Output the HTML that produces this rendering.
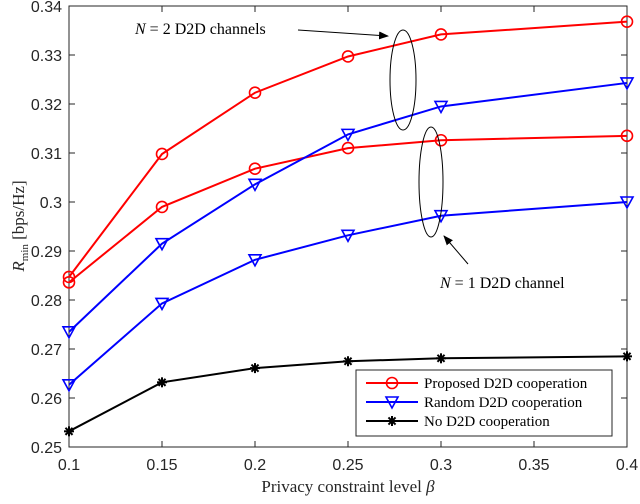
<!DOCTYPE html>
<html><head><meta charset="utf-8"><style>
body{margin:0;background:#fff}
svg text{font-family:"Liberation Serif",serif}
.tk{font-family:"Liberation Sans",sans-serif;font-size:16px;fill:#262626}
</style></head><body>
<svg id="c" width="640" height="499" xmlns="http://www.w3.org/2000/svg">
<defs><marker id="ah" markerWidth="10" markerHeight="8" refX="9" refY="4" orient="auto"><path d="M0,0 L10,4 L0,8 Z" fill="#000"/></marker></defs>
<rect x="69" y="6" width="558" height="441" fill="#fff" stroke="#262626" stroke-width="1"/>
<g id="ticks"></g>
<g id="series"></g>
<ellipse cx="403" cy="80" rx="13" ry="50" fill="none" stroke="#000"/>
<ellipse cx="431" cy="182" rx="12" ry="55" fill="none" stroke="#000"/>
<text x="135" y="34" font-size="16"><tspan font-style="italic">N</tspan> = 2 D2D channels</text>
<line x1="298" y1="30" x2="388" y2="36" stroke="#000" marker-end="url(#ah)"/>
<text x="440" y="288" font-size="16"><tspan font-style="italic">N</tspan> = 1 D2D channel</text>
<line x1="468" y1="264" x2="444" y2="236" stroke="#000" marker-end="url(#ah)"/>
<text x="348" y="492" font-size="17" text-anchor="middle" fill="#262626">Privacy constraint level <tspan font-style="italic">β</tspan></text>
<text transform="translate(24,226) rotate(-90)" font-size="17" text-anchor="middle" fill="#262626"><tspan font-style="italic">R</tspan><tspan font-size="11" dy="4">min</tspan><tspan dy="-4"> [bps/Hz]</tspan></text>
<g>
<rect x="356" y="370" width="256" height="66" fill="#fff" stroke="#262626"/>
<g id="leg"></g>
</g>
</svg>
<script>
const xVals=[0.1,0.15,0.2,0.25,0.3,0.4];
const propN2=[0.2847,0.3098,0.3223,0.3297,0.3342,0.3368];
const propN1=[0.2836,0.2990,0.3068,0.3110,0.3126,0.3135];
const randN2=[0.2735,0.2915,0.3036,0.3138,0.3195,0.3243];
const randN1=[0.2627,0.2793,0.2882,0.2932,0.2972,0.3000];
const noCoop=[0.2532,0.2632,0.2661,0.2675,0.2681,0.2685];
const xTicks=[0.1,0.15,0.2,0.25,0.3,0.35,0.4];
const yTicks=[0.25,0.26,0.27,0.28,0.29,0.3,0.31,0.32,0.33,0.34];
const legendLabels=["Proposed D2D cooperation","Random D2D cooperation","No D2D cooperation"];
const NS="http://www.w3.org/2000/svg";
const X=v=>69+(v-0.1)/0.3*558, Y=v=>447-(v-0.25)/0.09*441;
function mk(t,a,p){const e=document.createElementNS(NS,t);for(const k in a)e.setAttribute(k,a[k]);p.appendChild(e);return e;}
const tg=document.getElementById('ticks');
xTicks.forEach(t=>{const x=X(t);
mk('line',{x1:x,y1:447,x2:x,y2:441,stroke:'#262626'},tg);mk('line',{x1:x,y1:6,x2:x,y2:12,stroke:'#262626'},tg);
const e=mk('text',{x:x,y:470,'text-anchor':'middle',class:'tk'},tg);e.textContent=String(t);

});
yTicks.forEach(t=>{const y=Y(t);
mk('line',{x1:69,y1:y,x2:75,y2:y,stroke:'#262626'},tg);mk('line',{x1:627,y1:y,x2:621,y2:y,stroke:'#262626'},tg);
const e=mk('text',{x:62,y:y+6,'text-anchor':'end',class:'tk'},tg);e.textContent=String(t);

});
function marker(type,x,y,col,p){
if(type==='o')mk('circle',{cx:x,cy:y,r:5.5,fill:'none',stroke:col,'stroke-width':1.6},p);
else if(type==='v')mk('path',{d:`M${x-6},${y-5} L${x+6},${y-5} L${x},${y+6} Z`,fill:'none',stroke:col,'stroke-width':1.6},p);
else{for(const a of [0,45,90,135]){const r=a*Math.PI/180;mk('line',{x1:x-5*Math.cos(r),y1:y-5*Math.sin(r),x2:x+5*Math.cos(r),y2:y+5*Math.sin(r),stroke:col,'stroke-width':2},p);}}}
const sg=document.getElementById('series');
[[propN2,'#ff0000','o','proposed-n2'],[propN1,'#ff0000','o','proposed-n1'],[randN2,'#0000ff','v','random-n2'],[randN1,'#0000ff','v','random-n1'],[noCoop,'#000','*','no-cooperation']].forEach(([d,c,m,n])=>{
const g=mk('g',{},sg);


mk('polyline',{points:d.map((v,i)=>X(xVals[i])+','+Y(v)).join(' '),fill:'none',stroke:c,'stroke-width':2},g);
d.forEach((v,i)=>marker(m,X(xVals[i]),Y(v),c,g));});
const lg=document.getElementById('leg');
[['#ff0000','o'],['#0000ff','v'],['#000','*']].forEach(([c,m],i)=>{const y=383+i*19;
const g=mk('g',{},lg);


mk('line',{x1:366,y1:y,x2:418,y2:y,stroke:c,'stroke-width':2},g);marker(m,392,y,c,g);
const t=mk('text',{x:424,y:y+5,'font-size':15},g);t.textContent=legendLabels[i];});
</script>
</body></html>
